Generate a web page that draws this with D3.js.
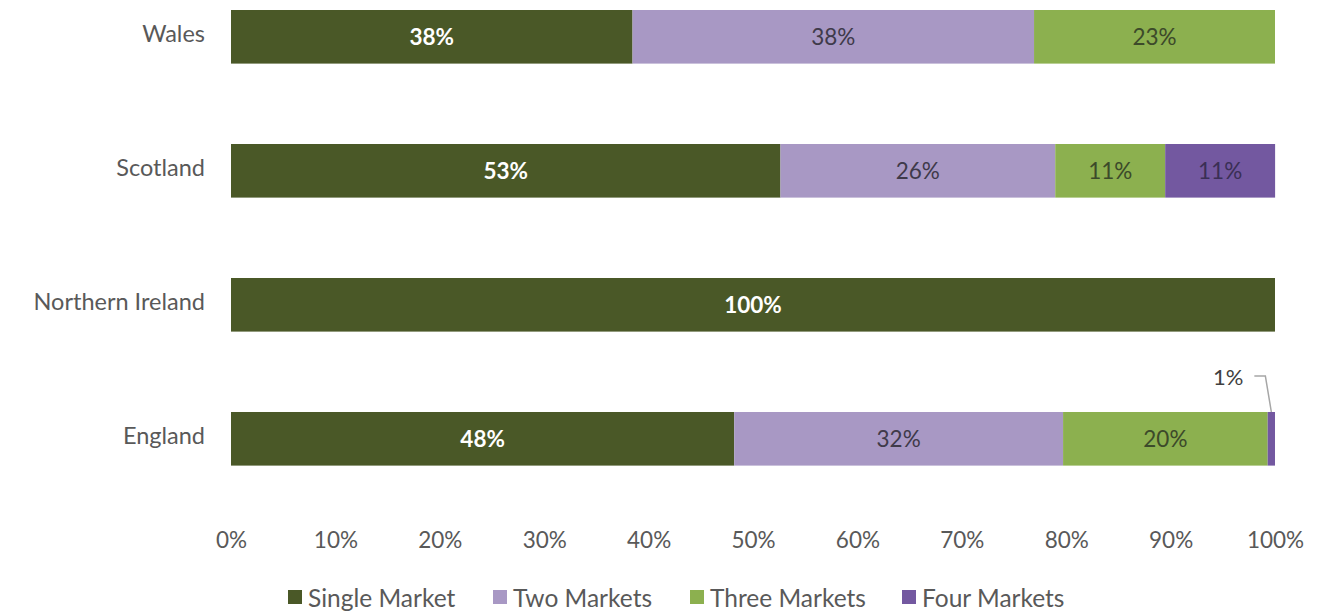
<!DOCTYPE html>
<html>
<head>
    <script src="https://d3js.org/d3.v7.min.js"></script>
    <style>
        body { margin: 0; background: #fff; }
        svg { font-family: Lato, "Open Sans", sans-serif; }
    </style>
</head>
<body>
    <svg width="1339" height="612"></svg>
    <script>
    // nations, top to bottom
    var nations = ["Wales", "Scotland", "Northern Ireland", "England"];
    var seriesNames = ["Single Market", "Two Markets", "Three Markets", "Four Markets"];
    var seriesColors = ["#4a5827", "#a898c4", "#8cb04f", "#7358a0"];
    var labelColors = ["#ffffff", "#3f3a4a", "#3c4a2a", "#3a2f55"];

    // share of businesses (%) per nation
    var singleMarket = [38.46, 52.63, 100, 48.2];
    var twoMarkets   = [38.46, 26.32, 0, 31.5];
    var threeMarkets = [23.08, 10.53, 0, 19.6];
    var fourMarkets  = [0, 10.53, 0, 0.7];

    var xTicks = [0, 10, 20, 30, 40, 50, 60, 70, 80, 90, 100];

    var svg = d3.select("svg");

    var rows = nations.map(function(n, i){
        return {nation: n, s0: singleMarket[i], s1: twoMarkets[i], s2: threeMarkets[i], s3: fourMarkets[i]};
    });
    var stack = d3.stack().keys(["s0", "s1", "s2", "s3"]);
    var layers = stack(rows);

    var x = d3.scaleLinear().domain([0, 100]).range([231, 1275]);
    var y = d3.scaleBand().domain(nations).range([-30.2, 505.8])
        .paddingInner(0.6).paddingOuter(0.3);

    // bars
    var groups = svg.selectAll("g.layer").data(layers).join("g")
        .attr("class", "layer")
        .attr("fill", function(d, i){ return seriesColors[i]; });

    groups.selectAll("rect").data(function(d){ return d; }).join("rect")
        .attr("x", function(d){ return x(d[0]); })
        .attr("y", function(d){ return y(d.data.nation); })
        .attr("width", function(d){ return x(d[1]) - x(d[0]); })
        .attr("height", y.bandwidth());

    // value labels inside segments
    layers.forEach(function(layer, i){
        layer.forEach(function(d){
            var v = d[1] - d[0];
            if (v <= 0) return;
            var cy = y(d.data.nation) + y.bandwidth() / 2;
            if (v < 3) {
                // small slice: label above with leader line
                var px = x(d[0]) + (x(d[1]) - x(d[0])) / 2;
                var ty = y(d.data.nation) - 36;
                svg.append("text")
                    .attr("x", px - 28).attr("y", ty)
                    .attr("text-anchor", "end")
                    .attr("dominant-baseline", "central")
                    .attr("font-size", 22).attr("fill", "#404040")
                    .text(Math.round(v) + "%");
                svg.append("polyline")
                    .attr("points", [[px - 17, ty], [px - 6, ty], [px, y(d.data.nation)]].join(" "))
                    .attr("fill", "none").attr("stroke", "#a6a6a6").attr("stroke-width", 1.5);
                return;
            }
            svg.append("text")
                .attr("x", x(d[0]) + (x(d[1]) - x(d[0])) / 2)
                .attr("y", cy)
                .attr("text-anchor", "middle")
                .attr("dominant-baseline", "central")
                .attr("font-size", 22.5)
                .attr("font-weight", i == 0 ? 700 : 400)
                .attr("fill", labelColors[i])
                .text(Math.round(v) + "%");
        });
    });

    // category axis
    var yAxis = svg.append("g").attr("transform", "translate(217,-2)")
        .call(d3.axisLeft(y).tickSize(0).tickPadding(12));
    yAxis.select(".domain").remove();
    yAxis.selectAll("text").attr("font-size", 23.5).attr("fill", "#595959")
        .attr("font-family", "Lato, 'Open Sans', sans-serif");

    // value axis
    var xAxis = svg.append("g").attr("transform", "translate(0,532)")
        .call(d3.axisBottom(x).tickValues(xTicks).tickSize(0).tickPadding(0)
            .tickFormat(function(d){ return d + "%"; }));
    xAxis.select(".domain").remove();
    xAxis.selectAll("text").attr("font-size", 22.5).attr("fill", "#595959")
        .attr("font-family", "Lato, 'Open Sans', sans-serif");

    // legend
    var legendX = [288, 493, 690, 902];
    var legend = svg.selectAll("g.legend").data(seriesNames).join("g")
        .attr("class", "legend")
        .attr("transform", function(d, i){ return "translate(" + legendX[i] + ",597)"; });
    legend.append("rect").attr("x", 0).attr("y", -7).attr("width", 14).attr("height", 14)
        .attr("fill", function(d, i){ return seriesColors[i]; });
    legend.append("text").attr("x", 20).attr("y", 0)
        .attr("dominant-baseline", "central")
        .attr("font-size", 24.5).attr("fill", "#595959")
        .text(function(d){ return d; });
    </script>
</body>
</html>
